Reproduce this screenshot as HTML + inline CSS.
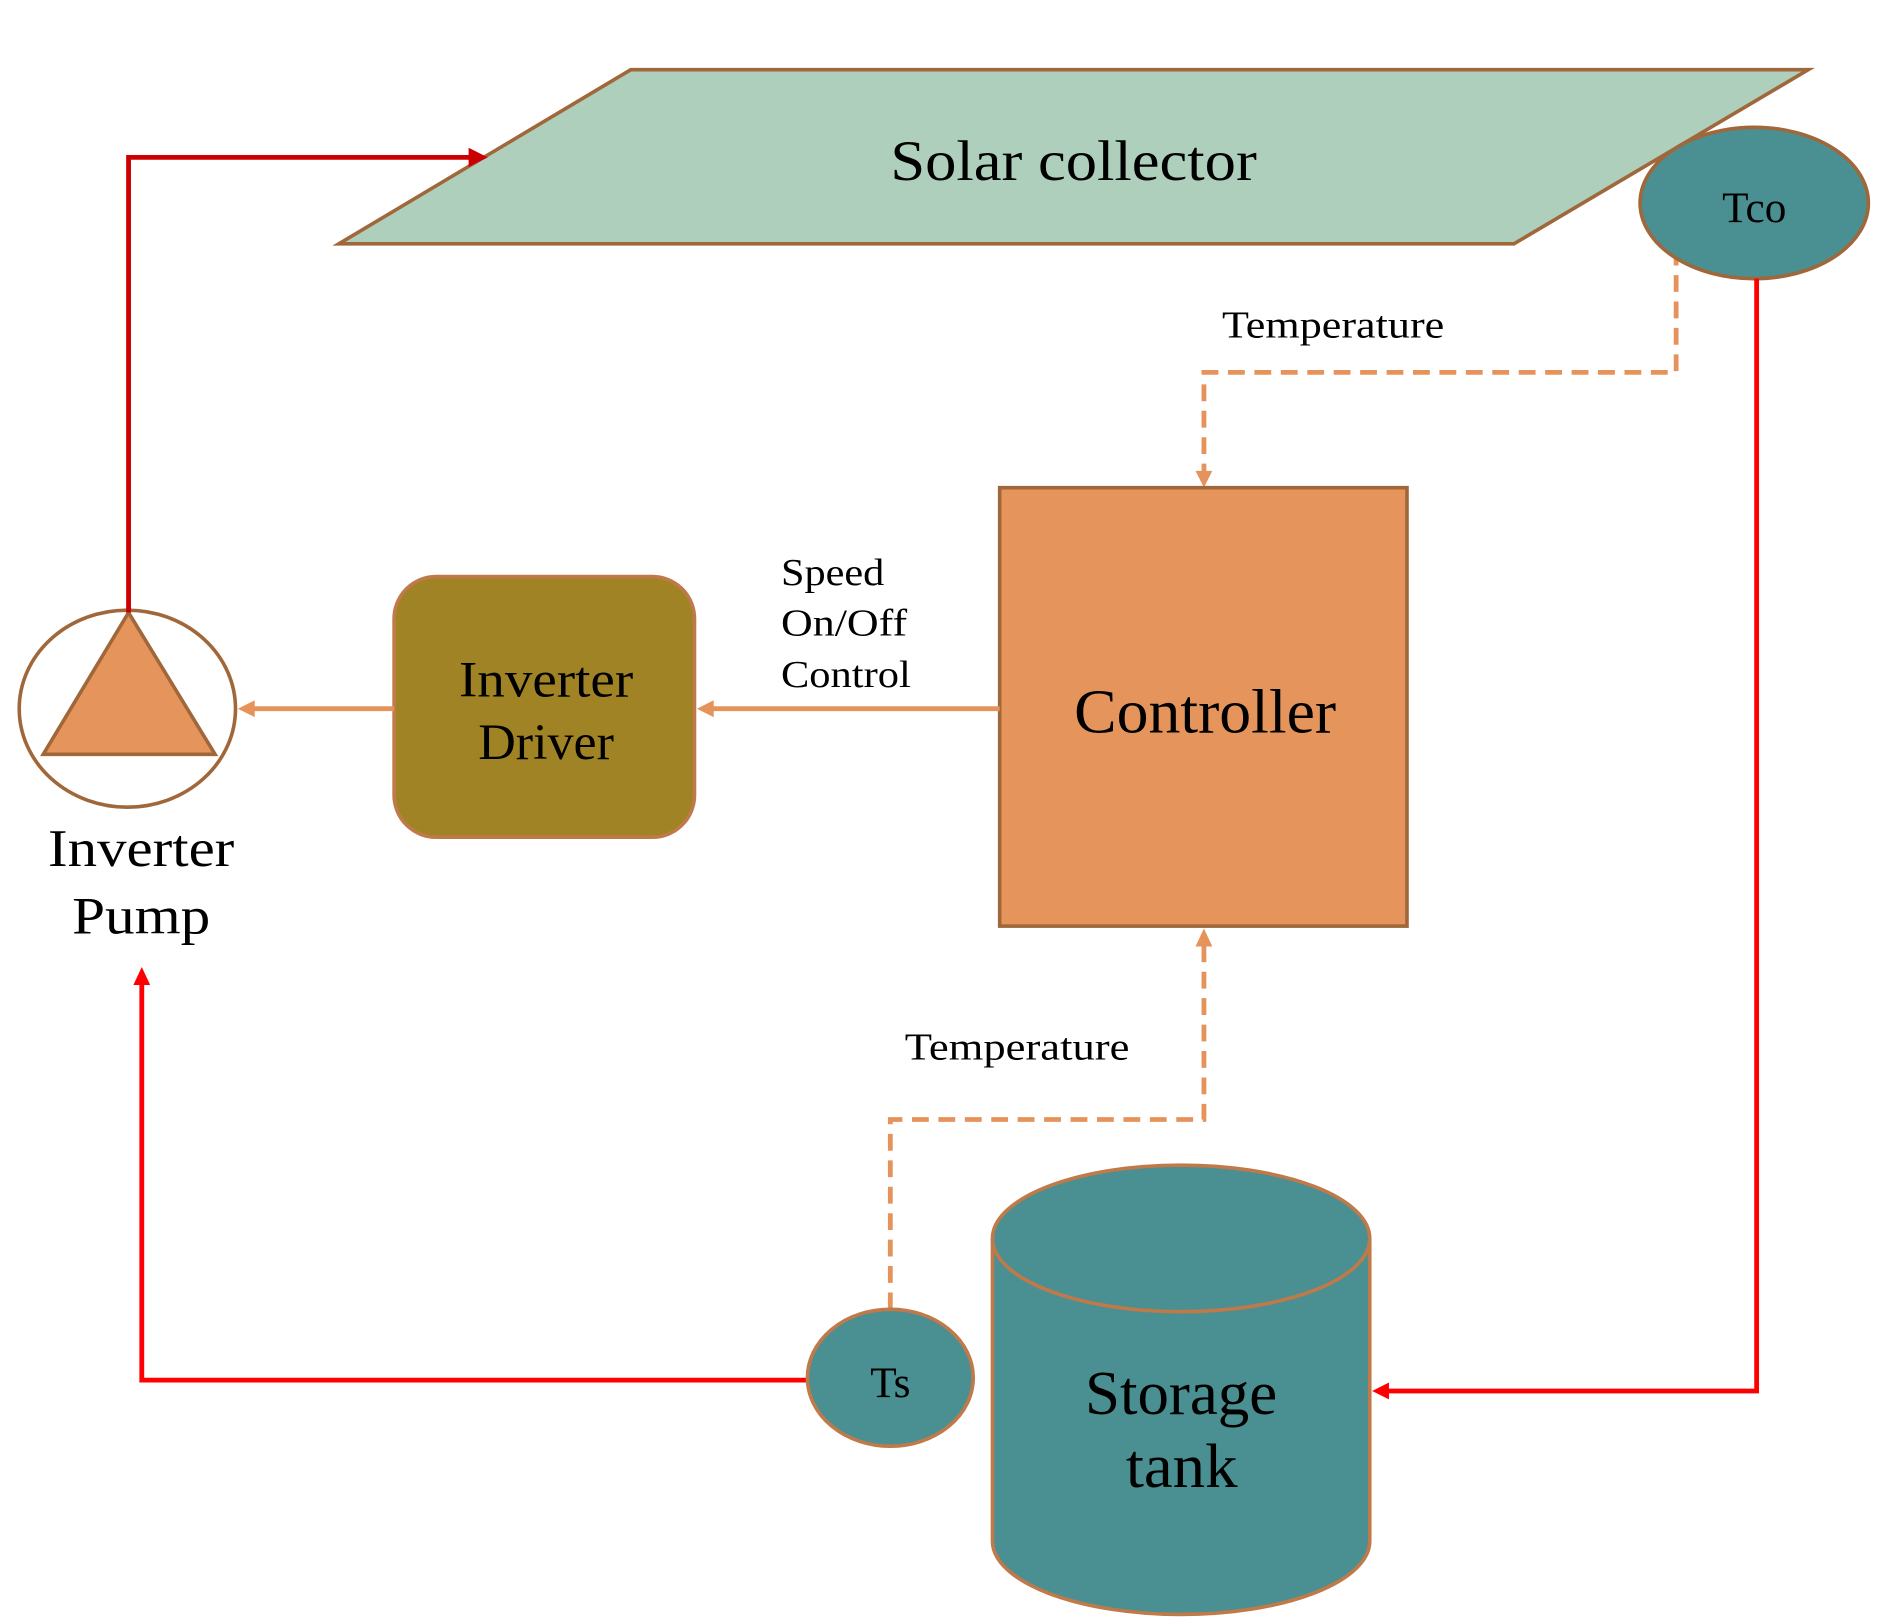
<!DOCTYPE html>
<html><head><meta charset="utf-8"><style>
html,body{margin:0;padding:0;background:#fff;}
svg{display:block;}
text{font-family:"Liberation Serif",serif;fill:#000;}
</style></head><body>
<svg width="1884" height="1624" viewBox="0 0 1568 1352" preserveAspectRatio="none" xmlns="http://www.w3.org/2000/svg">
<polygon points="282,203 525,58 1505,58 1260,203" fill="#aecfbc" stroke="#a0673a" stroke-width="3"/>
<text x="741" y="150" font-size="48" textLength="305" lengthAdjust="spacingAndGlyphs">Solar collector</text>
<polyline points="1395,185 1395,310 1002,310 1002,395" fill="none" stroke="#e5935a" stroke-width="4" stroke-dasharray="14,8"/>
<path d="M995,392 L1002,406 L1009,392 z" fill="#e5935a"/>
<ellipse cx="1460" cy="169" rx="95" ry="63" fill="#4a8f91" stroke="#a0673a" stroke-width="3"/>
<text x="1460" y="185" font-size="36" text-anchor="middle">Tco</text>
<polyline points="1462,232 1462,1158 1150,1158" fill="none" stroke="#ff0000" stroke-width="4"/>
<path d="M1156,1151 L1142,1158 L1156,1165 z" fill="#ff0000"/>
<text x="1017" y="281" font-size="32" textLength="185" lengthAdjust="spacingAndGlyphs">Temperature</text>
<rect x="832" y="406" width="339" height="365" fill="#e5955c" stroke="#a0673a" stroke-width="3"/>
<text x="894" y="610" font-size="52" textLength="218" lengthAdjust="spacingAndGlyphs">Controller</text>
<line x1="832" y1="590" x2="592" y2="590" stroke="#e5935a" stroke-width="4"/>
<path d="M594,583 L580,590 L594,597 z" fill="#e5935a"/>
<text x="650" y="487" font-size="32" textLength="86" lengthAdjust="spacingAndGlyphs">Speed</text>
<text x="650" y="529" font-size="32" textLength="105" lengthAdjust="spacingAndGlyphs">On/Off</text>
<text x="650" y="572" font-size="32" textLength="108" lengthAdjust="spacingAndGlyphs">Control</text>
<rect x="328" y="480" width="250" height="217" rx="35" fill="#a08324" stroke="#c07a4a" stroke-width="3"/>
<text x="382" y="580" font-size="42" textLength="145" lengthAdjust="spacingAndGlyphs">Inverter</text>
<text x="398" y="632" font-size="42" textLength="113" lengthAdjust="spacingAndGlyphs">Driver</text>
<line x1="328" y1="590" x2="210" y2="590" stroke="#e5935a" stroke-width="4"/>
<path d="M212,583 L198,590 L212,597 z" fill="#e5935a"/>
<ellipse cx="106" cy="590" rx="90" ry="82" fill="#fff" stroke="#a0673a" stroke-width="3"/>
<polygon points="36,628 107,510 179,628" fill="#e5955c" stroke="#a0673a" stroke-width="3"/>
<text x="40" y="721" font-size="44" textLength="155" lengthAdjust="spacingAndGlyphs">Inverter</text>
<text x="60" y="777" font-size="44" textLength="115" lengthAdjust="spacingAndGlyphs">Pump</text>
<polyline points="107,510 107,131 392,131" fill="none" stroke="#cc0000" stroke-width="4"/>
<path d="M390,123 L406,131 L390,139 z" fill="#cc0000"/>
<polyline points="672,1149 118,1149 118,818" fill="none" stroke="#ff0000" stroke-width="4"/>
<path d="M111,820 L118,805 L125,820 z" fill="#ff0000"/>
<polyline points="741,1090 741,932 1002,932 1002,786" fill="none" stroke="#e5935a" stroke-width="4" stroke-dasharray="14,8"/>
<path d="M995,788 L1002,773 L1009,788 z" fill="#e5935a"/>
<text x="753" y="882" font-size="32" textLength="187" lengthAdjust="spacingAndGlyphs">Temperature</text>
<ellipse cx="741" cy="1147" rx="69" ry="57" fill="#4a8f91" stroke="#c07a4a" stroke-width="3"/>
<text x="741" y="1163" font-size="36" text-anchor="middle">Ts</text>
<path d="M826,1031 L826,1283 A157,61 0 0 0 1140,1283 L1140,1031" fill="#4a8f91" stroke="#c07a4a" stroke-width="3"/>
<ellipse cx="983" cy="1031" rx="157" ry="61" fill="#4a8f91" stroke="#c07a4a" stroke-width="3"/>
<text x="903" y="1177" font-size="52" textLength="160" lengthAdjust="spacingAndGlyphs">Storage</text>
<text x="937" y="1238" font-size="52" textLength="93" lengthAdjust="spacingAndGlyphs">tank</text>
</svg>
</body></html>
